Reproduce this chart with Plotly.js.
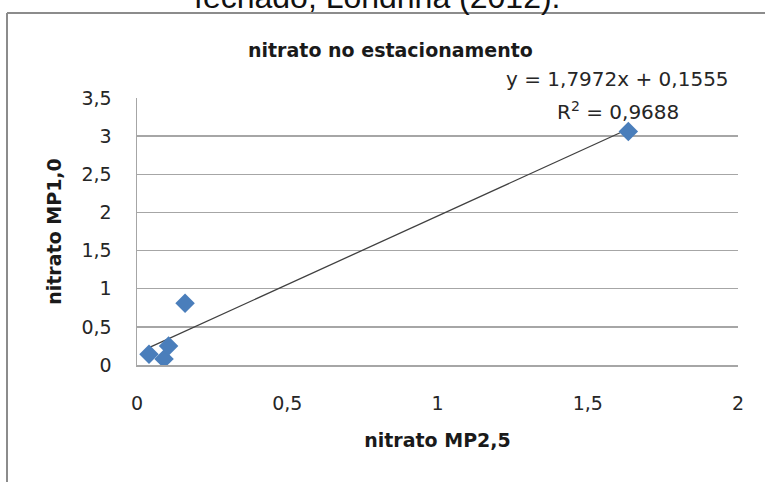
<!DOCTYPE html>
<html>
<head>
<meta charset="utf-8">
<script src="https://cdn.plot.ly/plotly-3.0.1.min.js"></script>
<style>
  html, body { margin: 0; padding: 0; background: #ffffff; }
  #chart { width: 765px; height: 482px; }
</style>
</head>
<body>
<div id="chart"></div>
<script>
// Nitrate: PM2.5 fraction vs PM1.0 fraction (parking lot)
const nitratoMP25 = [0.04, 0.09, 0.105, 0.16, 1.635];
const nitratoMP10 = [0.14, 0.08, 0.25, 0.81, 3.06];

// Linear trendline coefficients shown in the equation label
const slope = 1.7972;
const intercept = 0.1555;
const r2 = 0.9688;

const xTicks = [0, 0.5, 1, 1.5, 2];
const yTicks = [0, 0.5, 1, 1.5, 2, 2.5, 3, 3.5];

const fmt = (v, d) => v.toFixed(d).replace('.', ',');

const xMin = Math.min(...nitratoMP25);
const xMax = Math.max(...nitratoMP25);
const trendX = [xMin, xMax];
const trendY = trendX.map(x => slope * x + intercept);

const font = '"DejaVu Sans", Verdana, sans-serif';
const textColor = '#262626';

const traces = [
  {
    x: trendX, y: trendY, type: 'scatter', mode: 'lines',
    line: { color: '#404040', width: 1.3 },
    hoverinfo: 'skip', showlegend: false
  },
  {
    x: nitratoMP25, y: nitratoMP10, type: 'scatter', mode: 'markers',
    marker: { symbol: 'diamond', size: 15, color: '#4a7ebb' },
    showlegend: false
  }
];

const layout = {
  width: 765, height: 482,
  margin: { l: 137, r: 27, t: 98, b: 117 },
  paper_bgcolor: '#ffffff', plot_bgcolor: '#ffffff',
  separators: ',.',
  font: { family: font, size: 19, color: textColor },
  showlegend: false,
  xaxis: {
    range: [0, 2], tickvals: xTicks, ticktext: xTicks.map(v => fmt(v, v % 1 ? 1 : 0)),
    showgrid: false, zeroline: false,
    showline: true, linecolor: '#a6a6a6', linewidth: 1.5,
    ticks: '', ticklabelstandoff: 21,
    tickfont: { family: font, size: 19, color: textColor },
    title: { text: 'nitrato MP2,5', font: { family: font, size: 19, color: '#1a1a1a', weight: 'bold' }, standoff: 20 }
  },
  yaxis: {
    range: [0, 3.5], tickvals: yTicks, ticktext: yTicks.map(v => fmt(v, v % 1 ? 1 : 0)),
    showgrid: true, gridcolor: '#a6a6a6', gridwidth: 1.5,
    zeroline: false,
    showline: true, linecolor: '#a6a6a6', linewidth: 1.5,
    ticks: '', ticklabelstandoff: 20,
    tickfont: { family: font, size: 19, color: textColor },
    title: { text: 'nitrato MP1,0', font: { family: font, size: 19, color: '#1a1a1a', weight: 'bold' }, standoff: 15 }
  },
  shapes: [
    // Outer chart frame (top and left edges)
    { type: 'line', xref: 'paper', yref: 'paper', x0: -0.2163, x1: 1.2, y0: 1.3184, y1: 1.3184,
      line: { color: '#8c8c8c', width: 2 } },
    { type: 'line', xref: 'paper', yref: 'paper', x0: -0.2163, x1: -0.2163, y0: 1.3184, y1: -0.5,
      line: { color: '#8c8c8c', width: 2 } }
  ],
  annotations: [
    { text: 'fechado, Londrina (2012).', xref: 'paper', yref: 'paper', x: 0.3993, y: 1.3034,
      xanchor: 'center', yanchor: 'bottom', showarrow: false,
      font: { family: '"Liberation Sans", Arial, sans-serif', size: 32, color: '#111111' } },
    { text: '<b>nitrato no estacionamento</b>', xref: 'paper', yref: 'paper', x: 0.421, y: 1.18,
      xanchor: 'center', yanchor: 'middle', showarrow: false,
      font: { family: font, size: 19, color: '#1a1a1a' } },
    { text: 'y = ' + fmt(slope, 4) + 'x + ' + fmt(intercept, 4), xref: 'paper', yref: 'paper', x: 0.80, y: 1.072,
      xanchor: 'center', yanchor: 'middle', showarrow: false,
      font: { family: font, size: 20, color: textColor } },
    { text: 'R<sup>2</sup> = ' + fmt(r2, 4), xref: 'paper', yref: 'paper', x: 0.80, y: 0.95,
      xanchor: 'center', yanchor: 'middle', showarrow: false,
      font: { family: font, size: 20, color: textColor } }
  ]
};

Plotly.newPlot('chart', traces, layout, { displayModeBar: false, staticPlot: true });
</script>
</body>
</html>
